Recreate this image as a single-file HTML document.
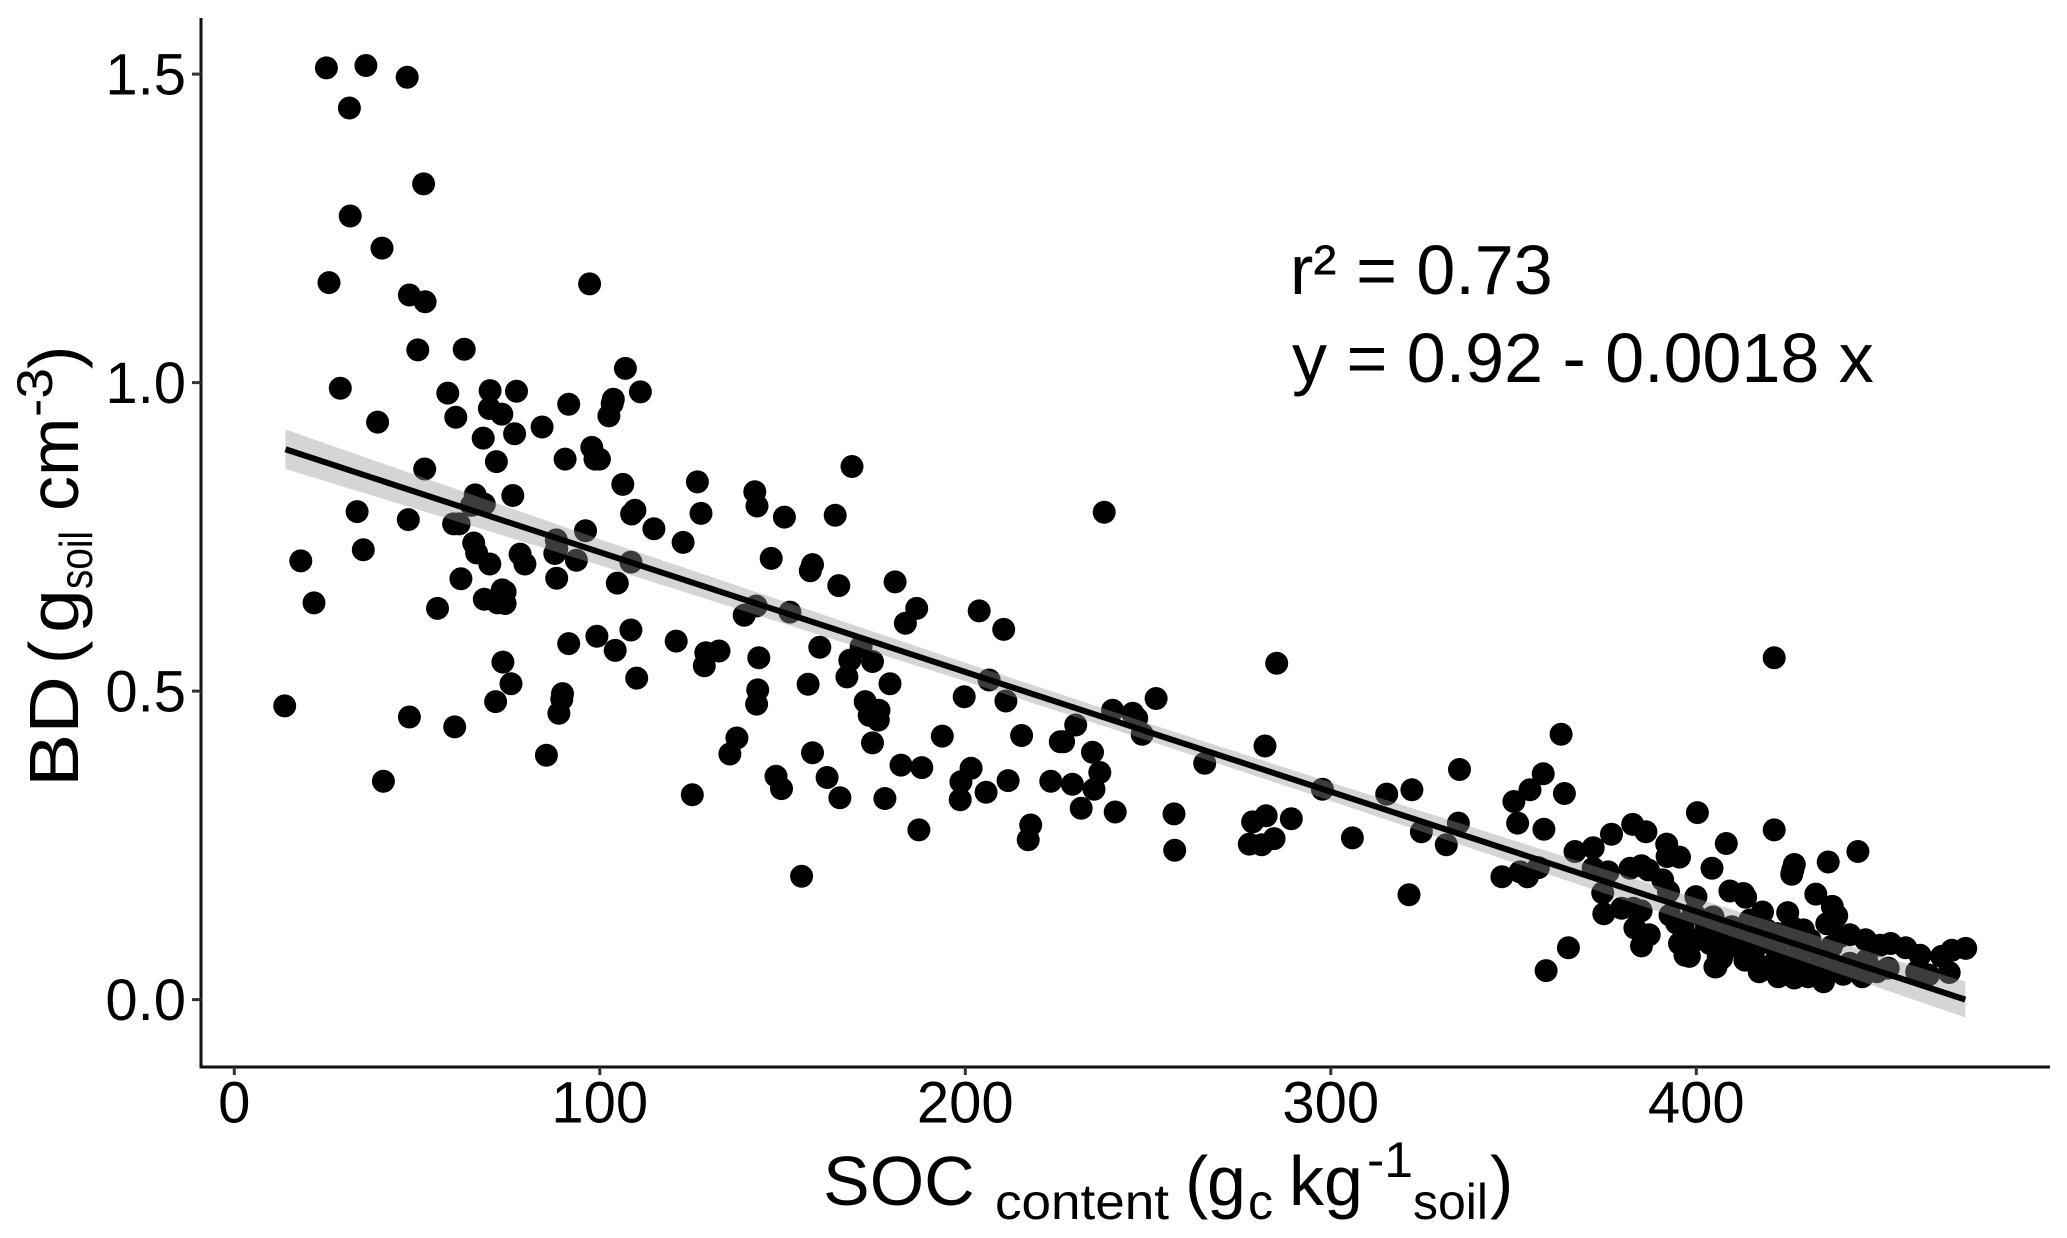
<!DOCTYPE html>
<html>
<head>
<meta charset="utf-8">
<title>BD vs SOC content</title>
<style>
html,body{margin:0;padding:0;background:#fff}
svg{display:block}
text{font-family:"Liberation Sans",Arial,sans-serif;fill:#000}
</style>
</head>
<body>
<svg id="chart" xmlns="http://www.w3.org/2000/svg" width="2067" height="1238" viewBox="0 0 2067 1238">
  <rect x="0" y="0" width="2067" height="1238" fill="#fff"/>
  <g id="points"></g>
  <g id="fit"></g>
  <g id="axes">
    <line x1="201" y1="18" x2="201" y2="1068" stroke="#111" stroke-width="3"/>
    <line x1="199.500" y1="1067" x2="2050" y2="1067" stroke="#111" stroke-width="3"/>
  </g>
  <g font-size="70">
    <text x="823" y="1205">SOC</text>
    <text x="995" y="1219" font-size="50" textLength="174" lengthAdjust="spacingAndGlyphs">content</text>
    <text x="1185" y="1205">(</text>
    <text x="1207" y="1205">g</text>
    <text x="1248" y="1219" font-size="50">c</text>
    <text x="1289" y="1205">kg</text>
    <text x="1367" y="1177" font-size="50" textLength="46" lengthAdjust="spacingAndGlyphs">-1</text>
    <text x="1413" y="1219" font-size="50">soil</text>
    <text x="1490" y="1205">)</text>
  </g>
  <g transform="translate(78,782) rotate(-90)" font-size="70">
    <text x="-5" y="0" textLength="111" lengthAdjust="spacingAndGlyphs">BD</text>
    <text x="118" y="0">(</text>
    <text x="149" y="0" textLength="44" lengthAdjust="spacingAndGlyphs">g</text>
    <text x="193" y="14" font-size="46" textLength="58" lengthAdjust="spacingAndGlyphs">soil</text>
    <text x="271" y="0">cm</text>
    <text x="365" y="-26" font-size="50" textLength="49" lengthAdjust="spacingAndGlyphs">-3</text>
    <text x="413" y="0">)</text>
  </g>
  <text x="1290" y="294" font-size="70">r² = 0.73</text>
  <text x="1292" y="382" font-size="70">y = 0.92 - 0.0018 x</text>
</svg>
<script>
const socValues = [
29.0,39.2,52.1,58.4,60.6,70.0,77.2,69.8,73.2,68.1,76.7,84.2,91.5,107,103.7,103.4,102.5,111.1,71.7,90.5,97.8,98.7,99.9,106.3,109.6,108.7,114.8,65.9,64.9,68.4,76.2,33.6,47.6,61.5,60.0,35.3,18.2,21.8,65.5,66.3,69.9,62.0,78.2,79.5,88.1,88.2,87.7,96.1,93.6,88.2,108.5,104.8,73.3,74.1,74.1,72,68.4,55.6,108.5,99.2,104.2,91.5,110.1,73.5,75.7,71.5,89.8,89.6,88.8,13.8,47.9,60.3,85.4,40.8,
25.2,36,47.3,31.5,51.8,31.7,40.4,25.9,47.9,52.2,97.2,50.2,62.9,
126.7,142.4,143,169,127.7,150.5,164.4,122.8,146.9,158.2,157.6,165.4,180.8,186.7,183.6,203.8,210.5,142.8,139.5,152,120.9,132.6,129,128.6,143.5,143.2,142.9,160.2,171.5,168.4,174.6,167.6,157,179.4,172.6,176.4,173.7,176.2,174.6,206.5,199.7,211.1,193.7,215.4,226,137.5,135.6,158.2,148.2,149.7,162.2,165.7,178,125.3,182.4,188.1,201.6,198.8,198.6,205.7,211.7,223.4,187.3,217.9,217.2,155.2,
238,285.2,252.2,240.3,245.8,246.9,248.4,230.2,226.9,234.8,236.8,235.2,229.3,231.7,241,257.1,257.3,265.5,282,297.7,315.3,322.2,305.9,289.2,282.3,278.6,277.7,281.1,284.5,324.8,331.6,334.9,321.4,335.2,
363.9,354.5,350.1,358.1,363,351.1,358.3,366.8,371.8,376.8,382.6,386.2,391.9,395.4,392,400.3,404.3,346.8,351.8,353.8,356.8,365,358.9,371.8,375.9,374.4,374.7,381.9,385,386.9,390.8,392.4,399.9,379.6,382.8,384.9,383.2,387.1,385,392.8,394.6,396.4,395.4,396.9,398.1,405.1,406,400.1,402.8,402.8,399.2,
421.3,421.3,408.2,426.8,426.4,426.1,436.1,444.2,409.2,412.9,413.5,432.7,418.1,425,437.2,438.4,435.7,415.9,429.3,426.1,431.1,425.6,419.2,442,446.3,450.3,453.2,457.3,461.2,467.1,469.9,473.7,469.2,460.3,463.5,452.5,449.4,445.4,440.2,434.8,430.6,426.8,422.4,417.2,413.3,405.4,406.9,411,415.6,419.2,424.7,428.4,432.9,437.5,442,446.6,437,439.2,422,405.6,402.8,404.6,409.7,412.9,408.3,403.7,417.4,428.4,433.8,414.7,422
];
const bdValues = [
.991,.936,.860,.983,.944,.987,.986,.958,.949,.910,.917,.928,.965,1.023,.973,.966,.946,.985,.872,.876,.895,.876,.876,.835,.793,.787,.763,.818,.801,.803,.817,.791,.778,.771,.771,.729,.711,.643,.740,.724,.706,.682,.722,.706,.745,.731,.723,.760,.712,.683,.709,.675,.664,.661,.642,.643,.649,.634,.599,.589,.566,.577,.521,.547,.512,.483,.496,.487,.464,.476,.458,.442,.396,.354,
1.510,1.514,1.495,1.445,1.322,1.270,1.218,1.162,1.142,1.131,1.160,1.053,1.054,
.839,.823,.800,.864,.788,.782,.785,.741,.715,.705,.695,.671,.677,.634,.610,.630,.600,.638,.623,.628,.581,.565,.562,.541,.554,.502,.479,.571,.572,.550,.548,.523,.511,.512,.483,.469,.461,.453,.416,.518,.491,.484,.427,.428,.418,.424,.398,.400,.362,.342,.360,.327,.326,.332,.380,.376,.375,.353,.324,.336,.355,.354,.275,.283,.259,.200,
.790,.545,.488,.469,.464,.456,.430,.445,.418,.401,.368,.341,.349,.310,.304,.301,.242,.383,.411,.341,.333,.340,.262,.293,.298,.288,.252,.251,.261,.272,.251,.286,.170,.373,
.334,.340,.321,.366,.430,.286,.276,.240,.246,.268,.284,.272,.252,.231,.232,.303,.213,.199,.207,.199,.214,.084,.047,.213,.207,.173,.139,.213,.217,.210,.194,.175,.167,.148,.148,.144,.116,.105,.087,.137,.124,.118,.091,.072,.070,.053,.070,.097,.102,.129,.140,
.275,.554,.253,.219,.210,.203,.223,.240,.176,.172,.166,.171,.142,.141,.151,.136,.123,.124,.113,.118,.097,.102,.113,.105,.097,.088,.091,.084,.072,.070,.080,.083,.044,.045,.040,.051,.045,.037,.041,.029,.037,.035,.037,.045,.064,.053,.067,.086,.070,.053,.064,.053,.048,.053,.059,.064,.086,.102,.080,.102,.118,.134,.118,.102,.091,.091,.091,.080,.070,.129,.107
];
const xTickValues = [0, 100, 200, 300, 400];
const yTickValues = [0, 0.5, 1.0, 1.5];
const yTickLabels = ["0.0", "0.5", "1.0", "1.5"];
const fitX = [14, 473.6];
const fitY = [0.892, 0.0];
const ribbonX = [14, 100, 200, 250, 300, 400, 473.6];
const ribbonUpper = [0.924, 0.746, 0.546, 0.448, 0.352, 0.164, 0.029];
const ribbonLower = [0.860, 0.704, 0.516, 0.420, 0.322, 0.122, -0.029];

function xScale(v) { return 234.3 + 3.655 * v; }
function yScale(v) { return 999.6 - 617 * v; }
const NS = "http://www.w3.org/2000/svg";

const pointsGroup = document.getElementById("points");
socValues.forEach(function (s, i) {
  const c = document.createElementNS(NS, "circle");
  c.setAttribute("cx", xScale(s).toFixed(1));
  c.setAttribute("cy", yScale(bdValues[i]).toFixed(1));
  c.setAttribute("r", "11.5");
  c.setAttribute("fill", "#000");
  
  
  pointsGroup.appendChild(c);
});

const fitGroup = document.getElementById("fit");
const upperPts = ribbonX.map(function (x, i) { return xScale(x).toFixed(1) + "," + yScale(ribbonUpper[i]).toFixed(1); });
const lowerPts = ribbonX.map(function (x, i) { return xScale(x).toFixed(1) + "," + yScale(ribbonLower[i]).toFixed(1); }).reverse();
const ribbon = document.createElementNS(NS, "polygon");
ribbon.setAttribute("points", upperPts.concat(lowerPts).join(" "));
ribbon.setAttribute("fill", "#979797");
ribbon.setAttribute("fill-opacity", "0.4");


fitGroup.appendChild(ribbon);

const fitLine = document.createElementNS(NS, "line");
fitLine.setAttribute("x1", xScale(fitX[0]));
fitLine.setAttribute("y1", yScale(fitY[0]));
fitLine.setAttribute("x2", xScale(fitX[1]));
fitLine.setAttribute("y2", yScale(fitY[1]));
fitLine.setAttribute("stroke", "#000");
fitLine.setAttribute("stroke-width", "6");


fitGroup.appendChild(fitLine);

const axesGroup = document.getElementById("axes");
xTickValues.forEach(function (v) {
  const t = document.createElementNS(NS, "line");
  t.setAttribute("x1", xScale(v));
  t.setAttribute("x2", xScale(v));
  t.setAttribute("y1", 1067);
  t.setAttribute("y2", 1075);
  t.setAttribute("stroke", "#333");
  t.setAttribute("stroke-width", "3");
  
  
  axesGroup.appendChild(t);
  const l = document.createElementNS(NS, "text");
  l.setAttribute("x", xScale(v));
  l.setAttribute("y", 1122.6);
  l.setAttribute("text-anchor", "middle");
  l.setAttribute("font-size", "58");
  
  
  l.textContent = String(v);
  axesGroup.appendChild(l);
});
yTickValues.forEach(function (v, i) {
  const t = document.createElementNS(NS, "line");
  t.setAttribute("x1", 192);
  t.setAttribute("x2", 201);
  t.setAttribute("y1", yScale(v));
  t.setAttribute("y2", yScale(v));
  t.setAttribute("stroke", "#333");
  t.setAttribute("stroke-width", "3");
  
  
  axesGroup.appendChild(t);
  const l = document.createElementNS(NS, "text");
  l.setAttribute("x", 186);
  l.setAttribute("y", yScale(v) + 20.5);
  l.setAttribute("text-anchor", "end");
  l.setAttribute("font-size", "58");
  
  
  l.textContent = yTickLabels[i];
  axesGroup.appendChild(l);
});
</script>
</body>
</html>
